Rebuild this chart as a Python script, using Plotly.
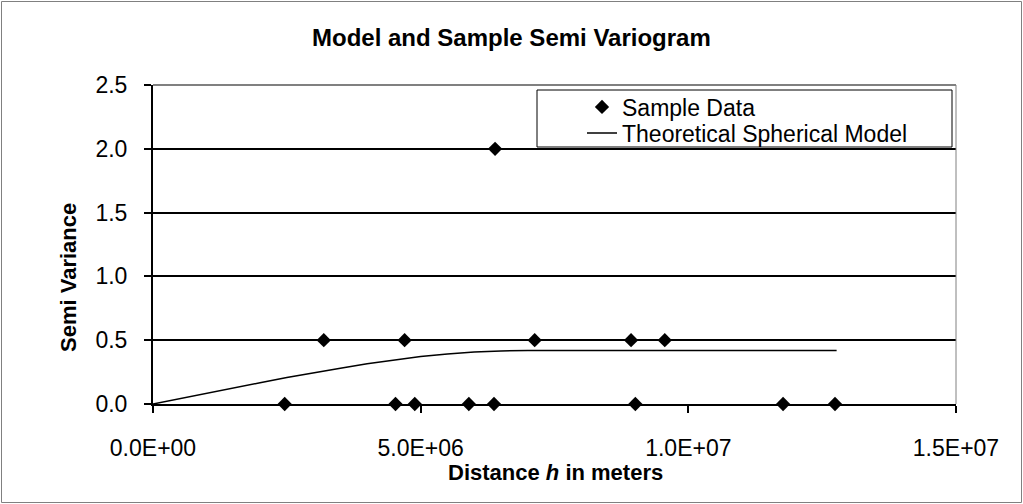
import plotly.graph_objects as go

# ---- data ----
sample_h = [2.46e6, 4.53e6, 4.89e6, 5.90e6, 6.37e6, 9.01e6, 11.77e6, 12.74e6,
            3.19e6, 4.70e6, 7.13e6, 8.93e6, 9.56e6,
            6.39e6]
sample_v = [0, 0, 0, 0, 0, 0, 0, 0,
            0.5, 0.5, 0.5, 0.5, 0.5,
            2.0]

model_h = [0, 0.5e6, 1.0e6, 1.5e6, 2.0e6, 2.5e6, 3.0e6, 3.5e6, 4.0e6, 4.5e6,
           5.0e6, 5.5e6, 6.0e6, 6.5e6, 7.0e6, 12.77e6]
model_v = [0, 0.043, 0.085, 0.127, 0.167, 0.207, 0.245, 0.281, 0.315, 0.345,
           0.372, 0.392, 0.407, 0.416, 0.420, 0.420]

x_tickvals = [0, 5e6, 1e7, 1.5e7]
x_ticktext = ["0.0E+00", "5.0E+06", "1.0E+07", "1.5E+07"]
y_tickvals = [0, 0.5, 1.0, 1.5, 2.0, 2.5]
y_ticktext = ["0.0", "0.5", "1.0", "1.5", "2.0", "2.5"]

# ---- layout geometry (pixels) ----
W, H = 1023, 504
L, R, T, B = 153, 956, 85, 404
pw, ph = R - L, B - T

def px(x):
    return (x - L) / pw

def py(y):
    return (B - y) / ph

FONT = "Liberation Sans, Arial, sans-serif"
TICKFONT = dict(family=FONT, size=23, color="black")
LEGFONT = dict(family=FONT, size=23, color="black")

fig = go.Figure()
fig.add_trace(go.Scatter(
    x=sample_h, y=sample_v, mode="markers", name="Sample Data",
    marker=dict(symbol="diamond", size=11, color="black"),
    cliponaxis=False, legend="legend",
))
fig.add_trace(go.Scatter(
    x=model_h, y=model_v, mode="lines", name="Theoretical Spherical Model",
    line=dict(color="black", width=1.5),
    cliponaxis=False, legend="legend2",
))

fig.update_layout(
    width=W, height=H,
    margin=dict(l=L, r=W - R, t=T, b=H - B, pad=0),
    paper_bgcolor="white", plot_bgcolor="white",
    font=dict(family=FONT, size=22, color="black"),
    showlegend=True,
    legend=dict(
        x=px(582), y=py(107), xanchor="left", yanchor="middle",
        bgcolor="rgba(0,0,0,0)", borderwidth=0, font=LEGFONT, itemwidth=30,
    ),
    legend2=dict(
        x=px(582), y=py(133), xanchor="left", yanchor="middle",
        bgcolor="rgba(0,0,0,0)", borderwidth=0, font=LEGFONT, itemwidth=30,
    ),
    xaxis=dict(
        range=[0, 1.5e7], tickvals=x_tickvals, ticktext=x_ticktext,
        showgrid=False, zeroline=False,
        showline=True, linecolor="black", linewidth=2,
        ticks="outside", ticklen=7, tickwidth=2, tickcolor="black",
        ticklabelstandoff=15, tickfont=TICKFONT,
    ),
    yaxis=dict(
        range=[0, 2.5], tickvals=y_tickvals, ticktext=y_ticktext,
        showgrid=True, gridcolor="black", gridwidth=2, zeroline=False,
        showline=True, linecolor="black", linewidth=2,
        ticks="outside", ticklen=7, tickwidth=2, tickcolor="black",
        ticklabelstandoff=12, tickfont=TICKFONT,
    ),
    shapes=[
        # outer chart border
        dict(type="rect", xref="paper", yref="paper",
             x0=px(1.5), x1=px(1021.5), y0=py(502.5), y1=py(1.5),
             line=dict(color="#808080", width=1), fillcolor="rgba(0,0,0,0)",
             layer="below"),
        # plot area top and right border (gray)
        dict(type="line", xref="paper", yref="paper",
             x0=0, x1=1, y0=1, y1=1, line=dict(color="#808080", width=2),
             layer="above"),
        dict(type="line", xref="paper", yref="paper",
             x0=1, x1=1, y0=0, y1=1, line=dict(color="#808080", width=1),
             layer="above"),
        # legend box
        dict(type="rect", xref="paper", yref="paper",
             x0=px(537), x1=px(952), y0=py(147), y1=py(90),
             line=dict(color="black", width=1), fillcolor="white",
             layer="above"),
    ],
    annotations=[
        dict(text="<b>Model and Sample Semi Variogram</b>", xref="paper", yref="paper",
             x=px(511), y=py(37), xanchor="center", yanchor="middle",
             showarrow=False, font=dict(family=FONT, size=24, color="black")),
        dict(text="<b>Distance <i>h</i> in meters</b>", xref="paper", yref="paper",
             x=px(555), y=py(473), xanchor="center", yanchor="middle",
             showarrow=False, font=dict(family=FONT, size=22, color="black")),
        dict(text="<b>Semi Variance</b>", xref="paper", yref="paper",
             x=px(68), y=py(278), xanchor="center", yanchor="middle", textangle=-90,
             showarrow=False, font=dict(family=FONT, size=22, color="black")),
    ],
)

fig.write_html("out.html")
